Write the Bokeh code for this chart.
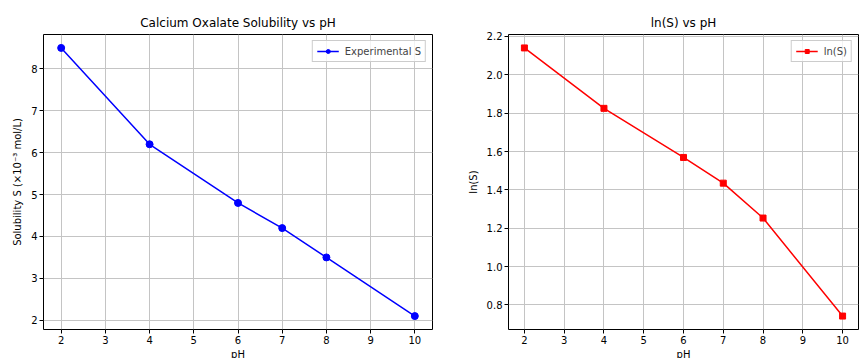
from bokeh.plotting import figure
from bokeh.layouts import row
from bokeh.models import Range1d, FixedTicker, Legend, LegendItem, NumeralTickFormatter
from bokeh.embed import file_html
from bokeh.resources import INLINE

ph = [2, 4, 6, 7, 8, 10]
solubility = [8.5, 6.2, 4.8, 4.2, 3.5, 2.1]
ln_s = [2.140, 1.825, 1.569, 1.435, 1.253, 0.742]

x_ticks = [2, 3, 4, 5, 6, 7, 8, 9, 10]
left_y_ticks = [2, 3, 4, 5, 6, 7, 8]
right_y_ticks = [0.8, 1.0, 1.2, 1.4, 1.6, 1.8, 2.0, 2.2]

FONT = "DejaVu Sans"


def style(p, xticks, yticks, xlabel, ylabel):
    p.title.text_font = FONT
    p.title.text_font_size = "12px"
    p.title.text_font_style = "normal"
    p.title.align = "center"
    p.title.text_color = "black"
    p.outline_line_color = "black"
    p.outline_line_width = 1
    p.outline_line_alpha = 1
    for ax in (p.xaxis[0], p.yaxis[0]):
        ax.axis_line_color = None
        ax.major_tick_in = 0
        ax.major_tick_out = 4
        ax.minor_tick_line_color = None
        ax.major_tick_line_color = "black"
        ax.major_label_text_font = FONT
        ax.major_label_text_font_size = "10px"
        ax.major_label_text_color = "black"
        ax.major_label_standoff = 2
        ax.axis_label_text_font = FONT
        ax.axis_label_text_font_size = "10px"
        ax.axis_label_text_font_style = "normal"
        ax.axis_label_text_color = "black"
        ax.axis_label_standoff = 2
    p.xaxis[0].ticker = FixedTicker(ticks=xticks)
    p.yaxis[0].ticker = FixedTicker(ticks=yticks)
    p.xaxis[0].axis_label = xlabel
    p.yaxis[0].axis_label = ylabel
    p.yaxis[0].axis_label_standoff = 5
    p.xgrid.ticker = FixedTicker(ticks=xticks)
    p.ygrid.ticker = FixedTicker(ticks=yticks)
    for g in (p.xgrid[0], p.ygrid[0]):
        g.grid_line_color = "#c4c4c4"
        g.grid_line_width = 1
        g.grid_line_alpha = 1


def make_legend(label, renderers):
    return Legend(items=[LegendItem(label=label, renderers=renderers)],
                  location="top_right", label_text_font=FONT, label_text_font_size="10px",
                  border_line_color="#cccccc", border_line_alpha=1, background_fill_alpha=0.8,
                  glyph_width=22, glyph_height=10, padding=4, margin=6, label_standoff=6,
                  label_height=12, spacing=0)


p1 = figure(frame_width=389, frame_height=295, min_border_left=43, min_border_right=31,
            min_border_top=34, min_border_bottom=28,
            x_range=Range1d(1.6, 10.4), y_range=Range1d(1.78, 8.82),
            title="Calcium Oxalate Solubility vs pH",
            output_backend="svg", toolbar_location=None)
style(p1, x_ticks, left_y_ticks, "pH", "Solubility S (×10⁻³ mol/L)")
l1 = p1.line(ph, solubility, line_color="blue", line_width=1.5)
c1 = p1.scatter(ph, solubility, marker="circle", size=7, fill_color="blue", line_color="blue")
p1.add_layout(make_legend("Experimental S", [l1, c1]))

p2 = figure(frame_width=350, frame_height=295, min_border_left=45, min_border_right=1,
            min_border_top=34, min_border_bottom=28,
            x_range=Range1d(1.6, 10.4), y_range=Range1d(0.672, 2.21),
            title="ln(S) vs pH",
            output_backend="svg", toolbar_location=None)
style(p2, x_ticks, right_y_ticks, "pH", "ln(S)")
p2.yaxis[0].formatter = NumeralTickFormatter(format="0.0")
l2 = p2.line(ph, ln_s, line_color="red", line_width=1.5)
c2 = p2.scatter(ph, ln_s, marker="square", size=6, fill_color="red", line_color="red")
p2.add_layout(make_legend("ln(S)", [l2, c2]))

layout = row(p1, p2)
open("out.html", "w").write(file_html(layout, INLINE))
